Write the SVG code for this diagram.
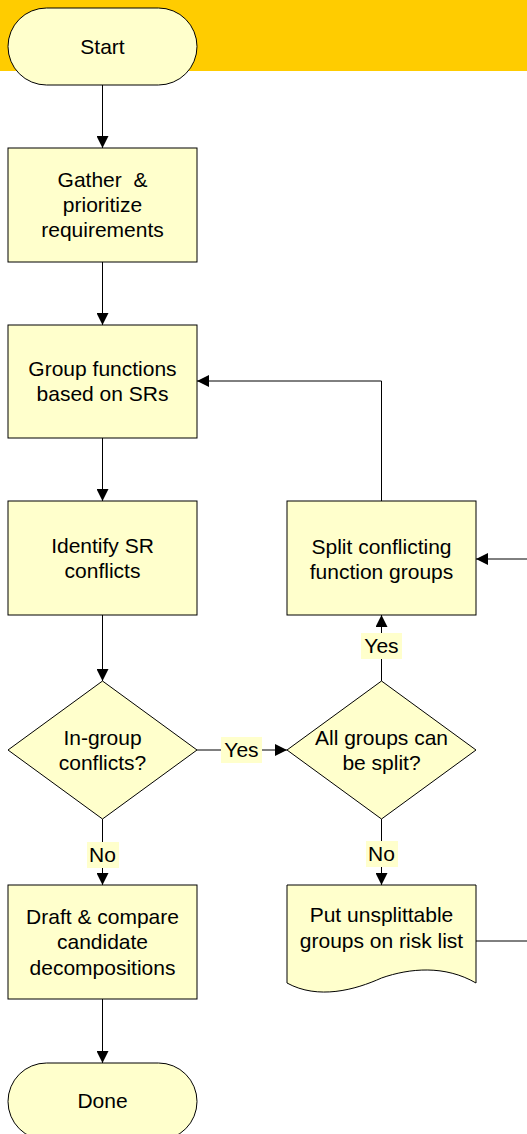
<svg xmlns="http://www.w3.org/2000/svg" width="527" height="1134" viewBox="0 0 527 1134">
  <style>
    .shape { fill: #FFFFCC; stroke: #000; stroke-width: 1; }
    .t { font-family: "Liberation Sans", Arial, sans-serif; font-size: 21px; fill: #000; text-anchor: middle; white-space: pre; }
    .wire { fill: none; stroke: #000; stroke-width: 1; }
    .lbl { fill: #FFFFCC; }
  </style>
  <defs>
    <marker id="ah" viewBox="0 0 12 12" refX="12" refY="6" markerWidth="12" markerHeight="12" markerUnits="userSpaceOnUse" orient="auto">
      <path d="M0,0 L12,6 L0,12 Z" fill="#000"/>
    </marker>
  </defs>

  <!-- header band -->
  <rect x="0" y="0" width="527" height="71" fill="#FFCC00"/>

  <!-- connectors -->
  <g id="connectors">
    <line class="wire" x1="102.5" y1="85" x2="102.5" y2="148" marker-end="url(#ah)"/>
    <line class="wire" x1="102.5" y1="262" x2="102.5" y2="325" marker-end="url(#ah)"/>
    <line class="wire" x1="102.5" y1="438" x2="102.5" y2="501" marker-end="url(#ah)"/>
    <line class="wire" x1="102.5" y1="615" x2="102.5" y2="681" marker-end="url(#ah)"/>
    <line class="wire" x1="102.5" y1="819" x2="102.5" y2="885" marker-end="url(#ah)"/>
    <line class="wire" x1="102.5" y1="999" x2="102.5" y2="1063" marker-end="url(#ah)"/>
    <line class="wire" x1="197" y1="750" x2="287" y2="750" marker-end="url(#ah)"/>
    <line class="wire" x1="381.5" y1="681" x2="381.5" y2="615" marker-end="url(#ah)"/>
    <line class="wire" x1="381.5" y1="819" x2="381.5" y2="885" marker-end="url(#ah)"/>
    <polyline class="wire" points="381.5,501 381.5,381 197,381" marker-end="url(#ah)"/>
    <line class="wire" x1="527" y1="559" x2="476" y2="559" marker-end="url(#ah)"/>
    <line class="wire" x1="476" y1="941" x2="527" y2="941"/>
    <!-- branch labels -->
    <rect class="lbl" x="221" y="737" width="41" height="26"/>
    <text class="t" x="241.5" y="757">Yes</text>
    <rect class="lbl" x="361" y="633" width="41" height="26"/>
    <text class="t" x="381.5" y="653">Yes</text>
    <rect class="lbl" x="366" y="841" width="32" height="26"/>
    <text class="t" x="381.5" y="861">No</text>
    <rect class="lbl" x="87" y="842" width="32" height="26"/>
    <text class="t" x="102.5" y="862">No</text>
  </g>

  <g id="start">
    <rect class="shape" x="8" y="8" width="189" height="77" rx="38.5" ry="38.5"/>
    <text class="t" x="102.5" y="54">Start</text>
  </g>

  <g id="gather">
    <rect class="shape" x="8" y="148" width="189" height="114"/>
    <text class="t" x="102.5" y="187">Gather  &amp;</text>
    <text class="t" x="102.5" y="212">prioritize</text>
    <text class="t" x="102.5" y="237">requirements</text>
  </g>

  <g id="group-functions">
    <rect class="shape" x="8" y="325" width="189" height="113"/>
    <text class="t" x="102.5" y="376">Group functions</text>
    <text class="t" x="102.5" y="401">based on SRs</text>
  </g>

  <g id="identify-conflicts">
    <rect class="shape" x="8" y="501" width="189" height="114"/>
    <text class="t" x="102.5" y="553">Identify SR</text>
    <text class="t" x="102.5" y="578">conflicts</text>
  </g>

  <g id="in-group-conflicts">
    <polygon class="shape" points="102.5,681 197,750 102.5,819 8,750"/>
    <text class="t" x="102.5" y="745">In-group</text>
    <text class="t" x="102.5" y="770">conflicts?</text>
  </g>

  <g id="all-split">
    <polygon class="shape" points="381.5,681 476,750 381.5,819 287,750"/>
    <text class="t" x="381.5" y="745">All groups can</text>
    <text class="t" x="381.5" y="770">be split?</text>
  </g>

  <g id="split-groups">
    <rect class="shape" x="287" y="501" width="189" height="114"/>
    <text class="t" x="381.5" y="554">Split conflicting</text>
    <text class="t" x="381.5" y="579">function groups</text>
  </g>

  <g id="risk-list">
    <!-- document shape with wavy lower edge -->
    <path class="shape" d="M287,885 H476 V983 C445,965 410,968 381.5,978 C355,990 318,1000 287,983 Z"/>
    <text class="t" x="381.5" y="922">Put unsplittable</text>
    <text class="t" x="381.5" y="948">groups on risk list</text>
  </g>

  <g id="draft">
    <rect class="shape" x="8" y="885" width="189" height="114"/>
    <text class="t" x="102.5" y="924">Draft &amp; compare</text>
    <text class="t" x="102.5" y="949">candidate</text>
    <text class="t" x="102.5" y="975">decompositions</text>
  </g>

  <g id="done">
    <rect class="shape" x="8" y="1063" width="189" height="77" rx="38.5" ry="38.5"/>
    <text class="t" x="102.5" y="1108">Done</text>
  </g>
</svg>
